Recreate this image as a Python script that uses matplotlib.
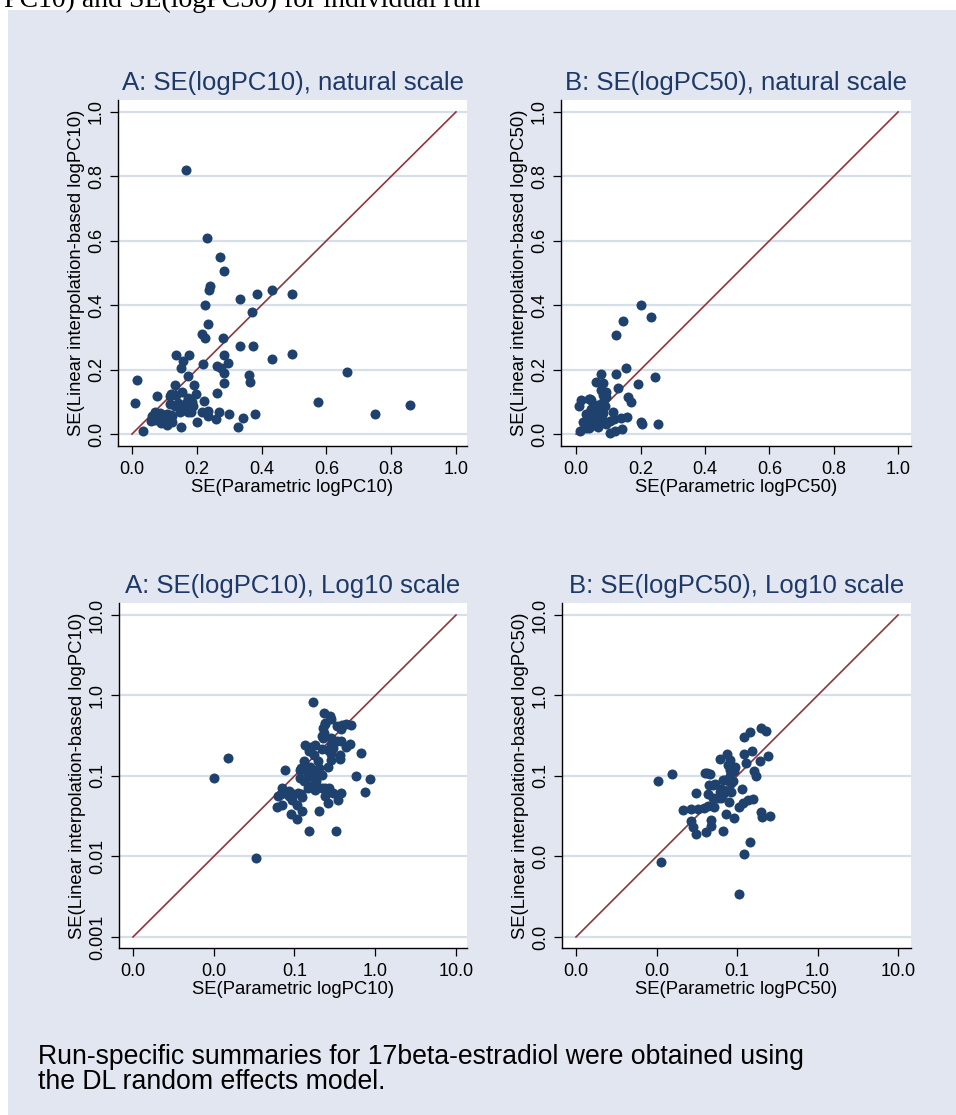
import numpy as np
import matplotlib
matplotlib.use("Agg")
import matplotlib.pyplot as plt
from matplotlib.patches import Rectangle

# SE(logPC10): parametric (x) vs linear interpolation-based (y)
pc10_param = [
    0.168, 0.231, 0.273, 0.285, 0.242, 0.238, 0.226, 0.234, 0.216, 0.224,
    0.280, 0.333, 0.387, 0.432, 0.495, 0.372, 0.333, 0.374, 0.432, 0.493,
    0.663, 0.574, 0.751, 0.859, 0.379, 0.343, 0.326, 0.299, 0.270, 0.260,
    0.236, 0.236, 0.216, 0.222, 0.202, 0.261, 0.284, 0.284, 0.296, 0.285,
    0.262, 0.276, 0.220, 0.362, 0.363, 0.136, 0.177, 0.159, 0.151, 0.172,
    0.193, 0.199, 0.133, 0.156, 0.121, 0.137, 0.077, 0.015, 0.010, 0.033,
    0.152, 0.173, 0.184, 0.187, 0.173, 0.181, 0.158, 0.149, 0.132, 0.116,
    0.122, 0.106, 0.125, 0.096, 0.091, 0.107, 0.070, 0.068, 0.060, 0.070,
    0.086, 0.142, 0.168, 0.063, 0.085, 0.093, 0.109, 0.124, 0.118,
]
pc10_interp = [
    0.821, 0.608, 0.551, 0.506, 0.461, 0.447, 0.400, 0.342, 0.310, 0.298,
    0.298, 0.418, 0.436, 0.447, 0.436, 0.379, 0.274, 0.272, 0.232, 0.249,
    0.192, 0.101, 0.063, 0.091, 0.062, 0.051, 0.021, 0.062, 0.070, 0.046,
    0.071, 0.057, 0.070, 0.104, 0.037, 0.129, 0.158, 0.189, 0.222, 0.244,
    0.212, 0.205, 0.217, 0.184, 0.161, 0.244, 0.244, 0.228, 0.205, 0.181,
    0.152, 0.124, 0.153, 0.131, 0.124, 0.122, 0.117, 0.168, 0.095, 0.0095,
    0.021, 0.112, 0.101, 0.086, 0.070, 0.067, 0.075, 0.070, 0.086, 0.094,
    0.060, 0.044, 0.037, 0.060, 0.034, 0.029, 0.070, 0.060, 0.041, 0.044,
    0.065, 0.096, 0.096, 0.056, 0.056, 0.050, 0.062, 0.055, 0.119,
]

# SE(logPC50): parametric (x) vs linear interpolation-based (y)
pc50_param = [
    0.201, 0.232, 0.147, 0.123, 0.154, 0.123, 0.244, 0.192, 0.131, 0.162,
    0.170, 0.076, 0.062, 0.082, 0.078, 0.094, 0.040, 0.046, 0.0157, 0.0104,
    0.0114, 0.106, 0.122, 0.144, 0.067, 0.041, 0.031, 0.028, 0.027, 0.047,
    0.048, 0.0215, 0.027, 0.033, 0.039, 0.044, 0.052, 0.0305, 0.044, 0.045,
    0.053, 0.051, 0.064, 0.061, 0.071, 0.082, 0.090, 0.084, 0.080, 0.114,
    0.106, 0.119, 0.138, 0.159, 0.201, 0.205, 0.255, 0.074, 0.092, 0.067,
    0.074, 0.064, 0.092, 0.082, 0.051, 0.042, 0.058, 0.067, 0.083,
]
pc50_interp = [
    0.400, 0.364, 0.350, 0.309, 0.205, 0.188, 0.178, 0.154, 0.144, 0.114,
    0.101, 0.188, 0.163, 0.159, 0.138, 0.131, 0.110, 0.105, 0.106, 0.086,
    0.0085, 0.0034, 0.0108, 0.0151, 0.0205, 0.0201, 0.0191, 0.0232, 0.0272, 0.0236,
    0.0286, 0.0373, 0.039, 0.039, 0.040, 0.042, 0.041, 0.061, 0.060, 0.078,
    0.079, 0.053, 0.053, 0.064, 0.090, 0.099, 0.086, 0.064, 0.048, 0.069,
    0.041, 0.046, 0.050, 0.052, 0.036, 0.031, 0.032, 0.034, 0.030, 0.090,
    0.066, 0.069, 0.114, 0.120, 0.078, 0.108, 0.053, 0.060, 0.081,
]

nat_ticks = [0.0, 0.2, 0.4, 0.6, 0.8, 1.0]
log_ticks = [0.001, 0.01, 0.1, 1.0, 10.0]
log_xlabels = ["0.0", "0.0", "0.1", "1.0", "10.0"]
log_ylabels_a = ["0.001", "0.01", "0.1", "1.0", "10.0"]
log_ylabels_b = ["0.0", "0.0", "0.1", "1.0", "10.0"]

note_lines = ["Run-specific summaries for 17beta-estradiol were obtained using",
              "the DL random effects model."]

BG = "#E1E6F0"
GRID = "#D6DEEA"
NAVY = "#1E416E"
MAROON = "#90353B"
TITLE = "#1E3867"

W, H = 956, 1115
plt.rcParams["font.family"] = ["Liberation Sans", "DejaVu Sans"]


def add_axes_px(fig, left, top, right, bottom):
    """Place an axes from pixel edges (top-left origin)"""
    return fig.add_axes([left / W, 1 - bottom / H, (right - left) / W, (bottom - top) / H])


def style_panel(ax, title, xlabel, ylabel):
    ax.set_facecolor("white")
    for side in ("top", "right"):
        ax.spines[side].set_visible(False)
    for side in ("left", "bottom"):
        ax.spines[side].set_color("black")
        ax.spines[side].set_linewidth(1.0)
    ax.yaxis.grid(True, color=GRID, linewidth=1.6)
    ax.xaxis.grid(False)
    ax.set_axisbelow(True)
    ax.tick_params(length=5.5, width=0.9, color="black", labelsize=13)
    ax.tick_params(axis="x", pad=5)
    ax.tick_params(axis="y", pad=4)
    ax.minorticks_off()
    for lab in ax.get_yticklabels():
        lab.set_rotation(90)
        lab.set_va("center")
    ax.set_title(title, fontsize=18.5, color=TITLE, pad=7)
    ax.set_xlabel(xlabel, fontsize=13.3, labelpad=1)
    ax.set_ylabel(ylabel, fontsize=13.3, labelpad=2)


def natural_panel(ax, x, y, title, xlabel, ylabel, xlim):
    ax.scatter(x, y, s=52, color=NAVY, linewidths=0, zorder=3)
    ax.plot([0, 1], [0, 1], color=MAROON, linewidth=1.2, zorder=2)
    ax.set_xlim(*xlim)
    ax.set_ylim(-0.037, 1.037)
    ax.set_xticks(nat_ticks)
    ax.set_yticks(nat_ticks)
    ax.set_xticklabels([f"{t:.1f}" for t in nat_ticks])
    ax.set_yticklabels([f"{t:.1f}" for t in nat_ticks])
    style_panel(ax, title, xlabel, ylabel)


def log_panel(ax, x, y, title, xlabel, ylabel, xlim, ylabels):
    ax.set_xscale("log")
    ax.set_yscale("log")
    ax.scatter(x, y, s=52, color=NAVY, linewidths=0, zorder=3)
    ax.plot([0.001, 10], [0.001, 10], color=MAROON, linewidth=1.2, zorder=2)
    ax.set_xlim(*xlim)
    ax.set_ylim(10 ** -3.137, 10 ** 1.149)
    ax.set_xticks(log_ticks)
    ax.set_yticks(log_ticks)
    ax.set_xticklabels(log_xlabels)
    ax.set_yticklabels(ylabels)
    style_panel(ax, title, xlabel, ylabel)


if __name__ == "__main__":
    fig = plt.figure(figsize=(W / 100, H / 100), dpi=100)
    fig.patch.set_facecolor("white")
    fig.patches.append(Rectangle((8 / W, 0), 1 - 8 / W, 1 - 10 / H,
                                 transform=fig.transFigure, facecolor=BG,
                                 edgecolor="none", zorder=-10))

    # leftover of the caption line above the graph
    fig.text(480 / W, 1 - 7 / H, "PC10) and SE(logPC50) for individual run",
             ha="right", va="baseline", fontsize=20,
             family=["Liberation Serif", "DejaVu Serif"])

    ax1 = add_axes_px(fig, 118, 100, 467, 446)
    natural_panel(ax1, pc10_param, pc10_interp, "A: SE(logPC10), natural scale",
                  "SE(Parametric logPC10)", "SE(Linear interpolation-based logPC10)",
                  (-0.043, 1.034))

    ax2 = add_axes_px(fig, 561, 100, 911, 446)
    natural_panel(ax2, pc50_param, pc50_interp, "B: SE(logPC50), natural scale",
                  "SE(Parametric logPC50)", "SE(Linear interpolation-based logPC50)",
                  (-0.047, 1.040))

    ax3 = add_axes_px(fig, 119, 603, 467, 948)
    log_panel(ax3, pc10_param, pc10_interp, "A: SE(logPC10), Log10 scale",
              "SE(Parametric logPC10)", "SE(Linear interpolation-based logPC10)",
              (10 ** -3.173, 10 ** 1.136), log_ylabels_a)

    ax4 = add_axes_px(fig, 562, 603, 911, 948)
    log_panel(ax4, pc50_param, pc50_interp, "B: SE(logPC50), Log10 scale",
              "SE(Parametric logPC50)", "SE(Linear interpolation-based logPC50)",
              (10 ** -3.174, 10 ** 1.161), log_ylabels_b)

    for i, line in enumerate(note_lines):
        fig.text(38 / W, 1 - (1064 + 25 * i) / H, line,
                 ha="left", va="baseline", fontsize=19.2)

    fig.savefig("out.png", dpi=100)
